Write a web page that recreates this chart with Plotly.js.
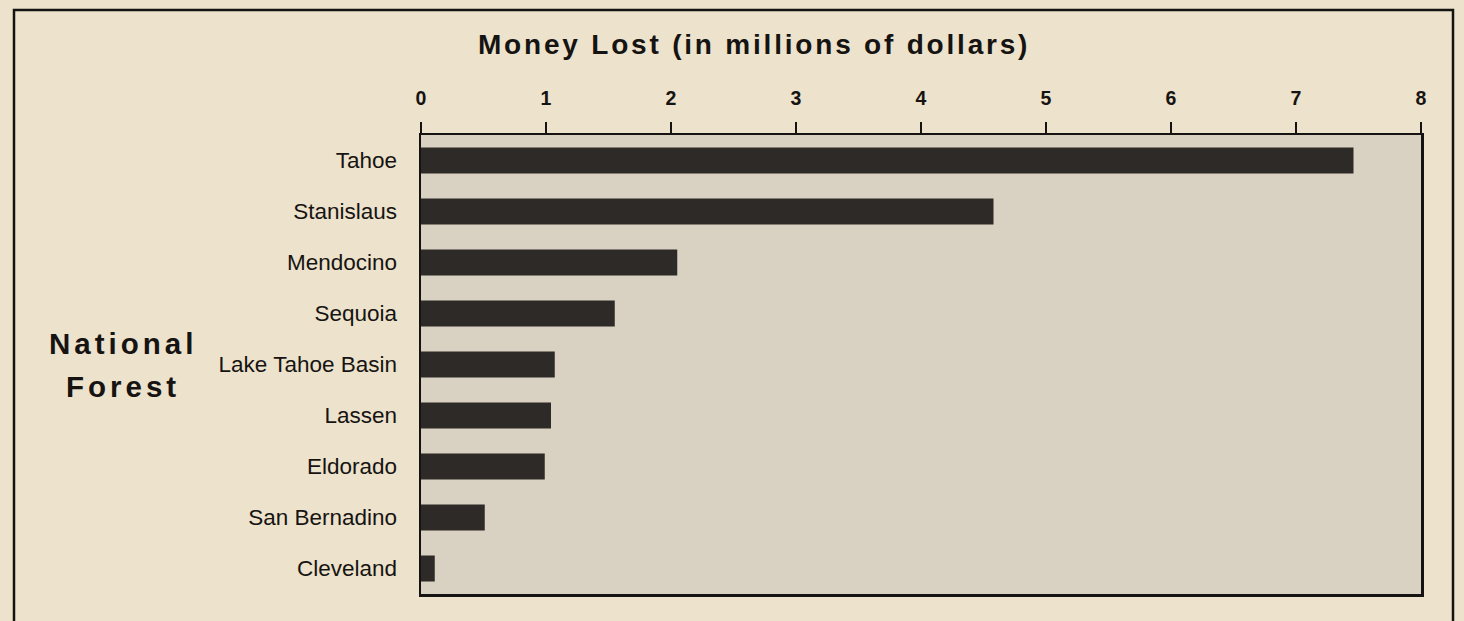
<!DOCTYPE html>
<html>
<head>
<meta charset="utf-8">
<script src="https://cdn.plot.ly/plotly-3.0.1.min.js"></script>
<style>
html,body{margin:0;padding:0;background:#ede2cb;}
#chart{width:1464px;height:621px;}
</style>
</head>
<body>
<div id="chart"></div>
<script>
const forests = ["Tahoe","Stanislaus","Mendocino","Sequoia","Lake Tahoe Basin","Lassen","Eldorado","San Bernadino","Cleveland"];
const moneyLost = [7.46, 4.58, 2.05, 1.55, 1.07, 1.04, 0.99, 0.51, 0.11];
const xTicks = [0,1,2,3,4,5,6,7,8];
const titleText = "Money Lost (in millions of dollars)";
const yTitleLines = ["National", "Forest"];

const ink = "#161412";
const data = [{
  type: "bar",
  orientation: "h",
  x: moneyLost,
  y: forests,
  marker: {color: "#2e2a27", line: {width: 0}},
  hoverinfo: "x+y"
}];

const layout = {
  width: 1464, height: 621,
  margin: {l: 421, r: 43, t: 135, b: 27, pad: 0},
  paper_bgcolor: "#ede2cb",
  plot_bgcolor: "#d9d1c1",
  showlegend: false,
  bargap: 0.49,
  font: {family: "Liberation Sans, Arial, sans-serif", color: ink},
  xaxis: {
    side: "top",
    range: [0, 8],
    tickvals: xTicks,
    ticktext: xTicks.map(String),
    ticks: "outside", ticklen: 11, tickwidth: 2, tickcolor: ink,
    ticklabelstandoff: 9,
    tickfont: {size: 19.5, weight: "bold", color: ink},
    showgrid: false, zeroline: false,
    showline: true, mirror: true, linewidth: 2.5, linecolor: ink,
    fixedrange: true
  },
  yaxis: {
    type: "category",
    categoryorder: "array", categoryarray: forests,
    range: [8.5, -0.5],
    ticks: "", ticklabelstandoff: 17,
    tickfont: {size: 22.5, color: ink},
    showgrid: false, zeroline: false,
    showline: true, mirror: true, linewidth: 2.5, linecolor: ink,
    fixedrange: true
  },
  annotations: [
    {text: '<span style="letter-spacing:2.8px">' + titleText + '</span>', xref: "paper", yref: "paper",
     x: 0.333, y: 1.197, xanchor: "center", yanchor: "middle", showarrow: false,
     font: {size: 28, weight: "bold", color: ink}},
    {text: '<span style="letter-spacing:4px">' + yTitleLines[0] + '</span>', xref: "paper", yref: "paper",
     x: -0.298, y: 0.545, xanchor: "center", yanchor: "middle", showarrow: false,
     font: {size: 29.5, weight: "bold", color: ink}},
    {text: '<span style="letter-spacing:4px">' + yTitleLines[1] + '</span>', xref: "paper", yref: "paper",
     x: -0.298, y: 0.452, xanchor: "center", yanchor: "middle", showarrow: false,
     font: {size: 29.5, weight: "bold", color: ink}}
  ],
  shapes: [
    {type: "path", xref: "paper", yref: "paper",
     path: "M -0.407,-0.2 L -0.407,1.2723 L 1.032,1.2723 L 1.032,-0.2",
     line: {color: ink, width: 2.5}}
  ]
};

Plotly.newPlot("chart", data, layout, {displayModeBar: false, staticPlot: true});
</script>
</body>
</html>
